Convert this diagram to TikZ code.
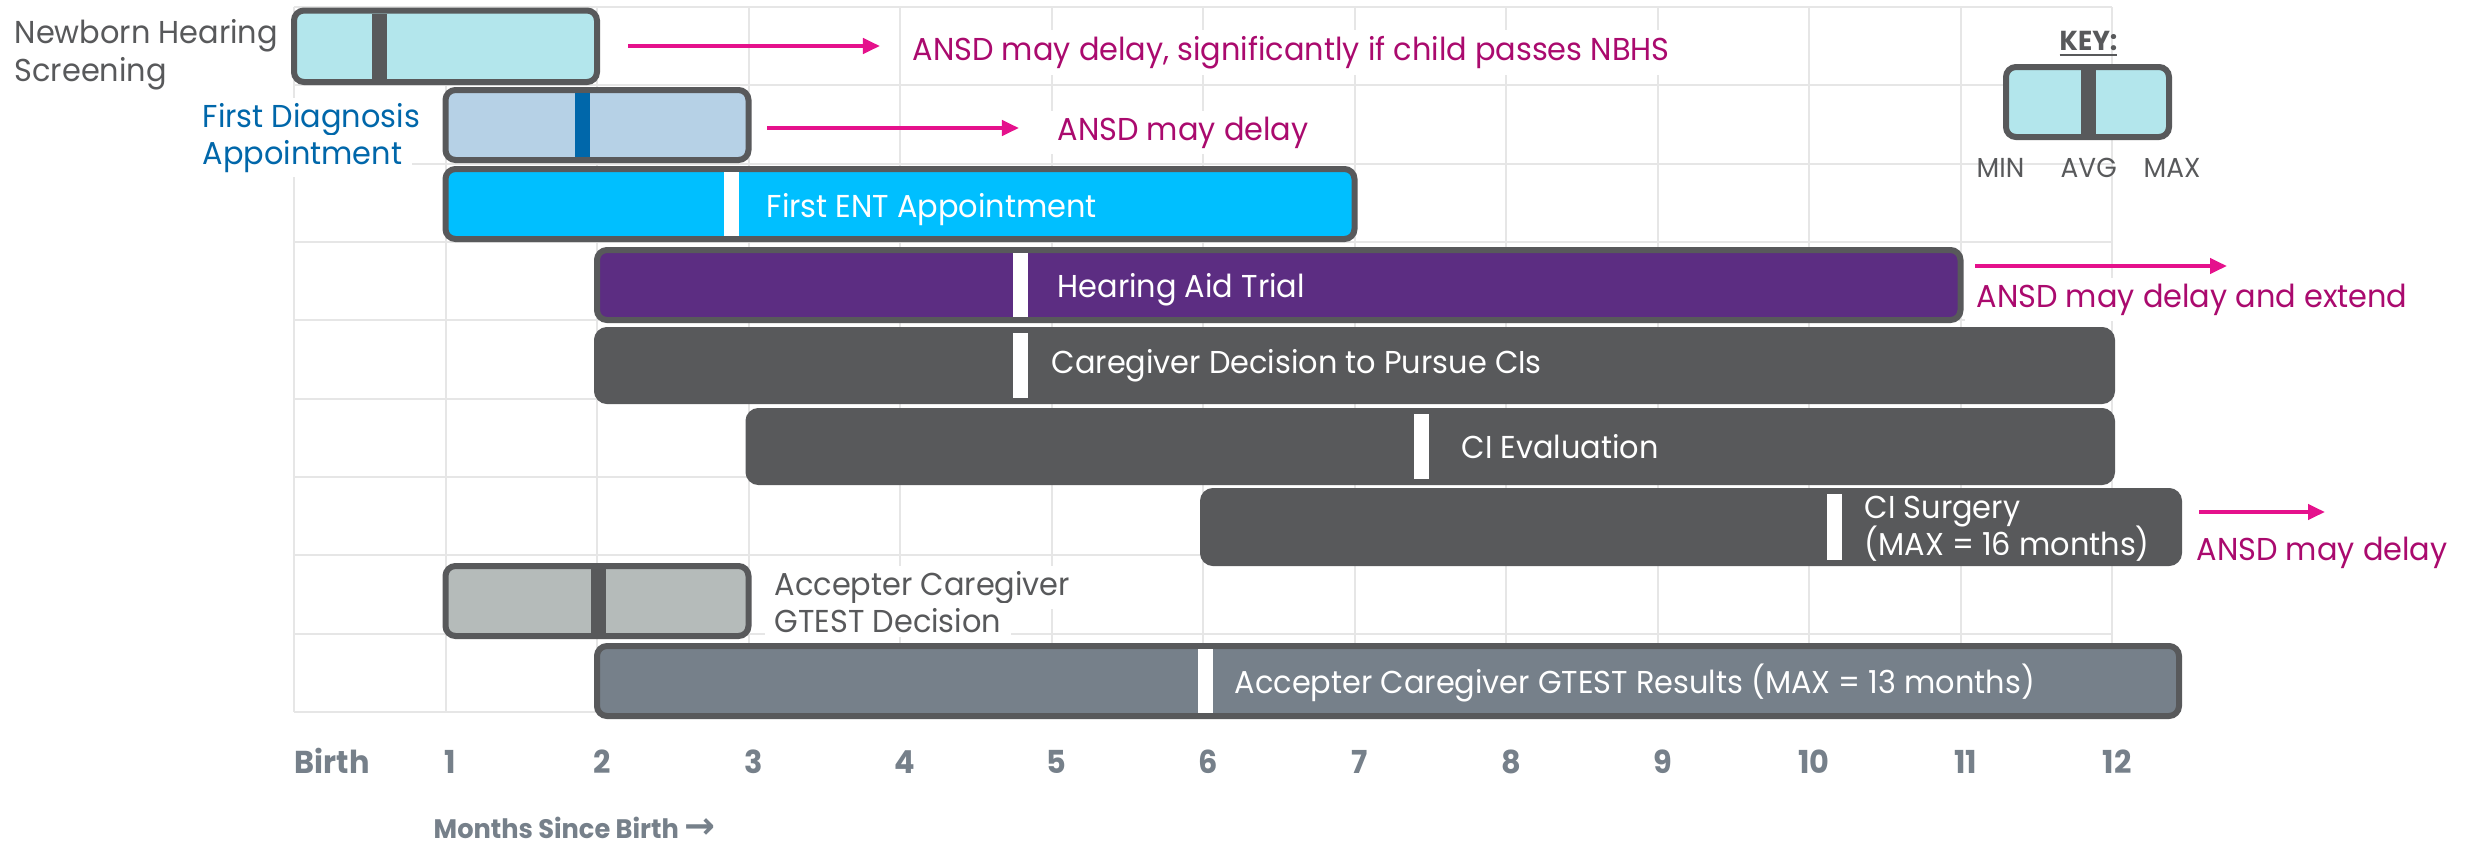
\documentclass[tikz,border=0pt]{standalone}
\usepackage{fontspec}
\setmainfont{Poppins}[FakeStretch=0.96]
\newfontfamily\arrowfont{DejaVu Sans}
\usetikzlibrary{arrows.meta}

\definecolor{slate}{HTML}{58595B}
\definecolor{gridgray}{HTML}{E6E6E6}
\definecolor{axisgray}{HTML}{76808A}
\definecolor{ansdpink}{HTML}{E5118C}
\definecolor{ansdtext}{HTML}{AA0A6E}
\definecolor{diagblue}{HTML}{0067AA}
\definecolor{nbhsfill}{HTML}{B3E6EC}
\definecolor{diagfill}{HTML}{B6D1E6}
\definecolor{entfill}{HTML}{00BFFF}
\definecolor{hafill}{HTML}{5C2D82}
\definecolor{gdfill}{HTML}{B5BBBA}
\definecolor{grfill}{HTML}{76808A}

\newcommand\fmain{\fontsize{9pt}{10.8pt}\selectfont}
\newcommand\fkey{\fontsize{7.8pt}{9pt}\selectfont}
\newcommand\faxis{\fontsize{9pt}{10.8pt}\selectfont\bfseries}
\newcommand\fsmall{\fontsize{7.6pt}{9pt}\selectfont\bfseries}

% one timeline bar: name, x0, x1, outer top, outer bottom, fill, avg x, avg colour
\newcommand\tlbar[8]{%
  \node[barbox, fill=#6, minimum width={(#3-#2)*0.01cm},
        minimum height={(#5-#4-6)*0.01cm}] (#1) at ({(#2+#3)/2},{(#4+#5)/2}) {};
  \fill[#8] ({#7-7.5},{#4+6}) rectangle ({#7+7.5},{#5-6});
}

\begin{document}
\begin{tikzpicture}[x=0.01cm,y=-0.01cm,
  gridline/.style={draw=gridgray, line width=0.02cm},
  barbox/.style={rectangle, rounded corners=0.1cm, draw=slate, line width=0.06cm, inner sep=0},
  barlabel/.style={anchor=base west, inner sep=0, text=white, font=\fmain},
  sidelabel/.style={anchor=base west, inner xsep=0.1cm, inner ysep=0.05cm, fill=white, font=\fmain},
  ansdlabel/.style={anchor=base west, inner xsep=0.12cm, inner ysep=0.06cm, fill=white, text=ansdtext, font=\fmain},
  ansd/.style={draw=ansdpink, line width=0.04cm, -{Triangle[length=0.17cm,width=0.15cm]}},
  axislabel/.style={anchor=base, inner sep=0, text=axisgray, font=\faxis},
  keylabel/.style={anchor=base west, inner sep=0, text=slate, font=\fkey}]

\fill[white] (0,0) rectangle (2468,845);
\useasboundingbox (0,0) rectangle (2468,845);

% background grid: one column per month, one row per milestone
\foreach \m in {0,...,12}
  \draw[gridline] ({294+151.5*\m},7) -- ({294+151.5*\m},712);
\foreach \r in {0,...,9}
  \draw[gridline] (294,{7+78.33*\r}) -- (2112,{7+78.33*\r});

% milestone bars (min to max, with the average marked)
\tlbar{nbhs}{294}{597}{7.5}{85}{nbhsfill}{379.5}{slate}
\tlbar{diag}{445.5}{748.5}{87}{163}{diagfill}{582}{diagblue}
\tlbar{ent}{445.5}{1354.5}{166}{242}{entfill}{731.7}{white}
\tlbar{hat}{597}{1960.5}{247}{323}{hafill}{1020.5}{white}
\tlbar{cgd}{597}{2112}{327}{404}{slate}{1020.5}{white}
\tlbar{cie}{748.5}{2112}{408}{485}{slate}{1421}{white}
\tlbar{cis}{1203}{2179}{488}{566}{slate}{1834.5}{white}
\tlbar{gtd}{445.5}{748.5}{563}{639}{gdfill}{598.5}{slate}
\tlbar{gtr}{597}{2179}{643}{719}{grfill}{1205.5}{white}

% labels on the bars
\node[barlabel] (tent) at (766,217) {First ENT Appointment};
\node[barlabel] (that) at (1057,297) {Hearing Aid Trial};
\node[barlabel] (tcgd) at (1051,373) {Caregiver Decision to Pursue CIs};
\node[barlabel] (tcie) at (1461,458) {CI Evaluation};
\node[barlabel] (tcis1) at (1864,518) {CI Surgery};
\node[barlabel] (tcis2) at (1864,555) {(MAX = 16 months)};
\node[barlabel] (tgtr) at (1234,693) {Accepter Caregiver GTEST Results (MAX = 13 months)};

% labels beside the bars
\node[sidelabel, text=slate] (tnb1) at (4,43) {Newborn Hearing};
\node[sidelabel, text=slate] (tnb2) at (4,81) {Screening};
\node[sidelabel, text=diagblue] (tdg1) at (192,127) {First Diagnosis};
\node[sidelabel, text=diagblue] (tdg2) at (192,164) {Appointment};
\node[sidelabel, text=slate] (tgd1) at (764,595) {Accepter Caregiver};
\node[sidelabel, text=slate] (tgd2) at (764,632) {GTEST Decision};

% ANSD notes
\node[ansdlabel] (n1) at (900,60) {ANSD may delay, significantly if child passes NBHS};
\node[ansdlabel] (n2) at (1045,140) {ANSD may delay};
\node[ansdlabel] (n3) at (1964,307) {ANSD may delay and extend};
\node[ansdlabel] (n4) at (2184,560) {ANSD may delay};

\coordinate (a1s) at (628,46);  \coordinate (a1e) at (880,46);
\coordinate (a2s) at (767,128); \coordinate (a2e) at (1019,128);
\coordinate (a3s) at (1975,266); \coordinate (a3e) at (2227,266);
\coordinate (a4s) at (2199,512); \coordinate (a4e) at (2325,512);
\draw[ansd] (a1s) -- (a1e);
\draw[ansd] (a2s) -- (a2e);
\draw[ansd] (a3s) -- (a3e);
\draw[ansd] (a4s) -- (a4e);

% time axis
\node[axislabel, anchor=base west] (m0) at (294,773) {Birth};
\foreach \m in {1,...,12}
  \node[axislabel] (m\m) at ({299+151.5*\m},773) {\m};
\node[anchor=base west, inner sep=0, text=axisgray, font=\fsmall] (mlab) at (433,838)
  {Months Since Birth {\arrowfont\bfseries\fontsize{10.5pt}{10pt}\selectfont →}};

% key
\node[anchor=base west, inner sep=0, text=slate, font=\fkey\bfseries] (keyt) at (2059,50) {\underline{KEY:}};
\tlbar{keybox}{2006}{2169}{64}{140}{nbhsfill}{2088.5}{slate}
\node[keylabel] (kmin) at (1976,177) {MIN};
\node[keylabel] (kavg) at (2060,177) {AVG};
\node[keylabel] (kmax) at (2143,177) {MAX};

\end{tikzpicture}
\end{document}
